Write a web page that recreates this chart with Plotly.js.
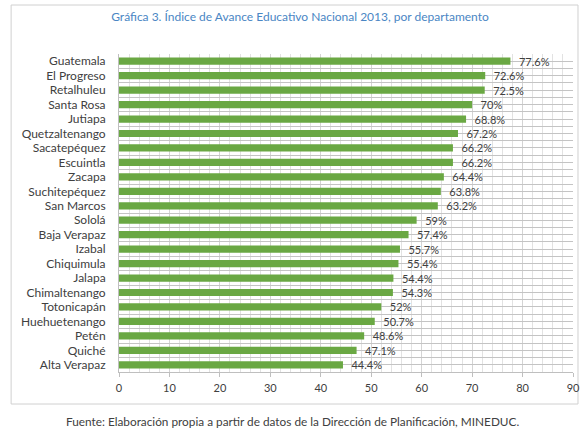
<!DOCTYPE html>
<html>
<head>
<meta charset="utf-8">
<script src="https://cdn.plot.ly/plotly-3.0.1.min.js"></script>
<style>
html,body{margin:0;padding:0;background:#fff;}
#chart{width:581px;height:433px;}
</style>
</head>
<body>
<div id="chart"></div>
<script>
const departamentos = ["Guatemala","El Progreso","Retalhuleu","Santa Rosa","Jutiapa","Quetzaltenango","Sacatepéquez","Escuintla","Zacapa","Suchitepéquez","San Marcos","Sololá","Baja Verapaz","Izabal","Chiquimula","Jalapa","Chimaltenango","Totonicapán","Huehuetenango","Petén","Quiché","Alta Verapaz"];
const indice = [77.6,72.6,72.5,70,68.8,67.2,66.2,66.2,64.4,63.8,63.2,59,57.4,55.7,55.4,54.4,54.3,52,50.7,48.6,47.1,44.4];
const xTicks = [0,10,20,30,40,50,60,70,80,90];

const font = "Lato, Open Sans, sans-serif";
const L = 118.5, R = 573, T = 54, B = 372;
const W = 581, H = 433;
const pw = R - L, ph = B - T;
function px(x){return (x - L)/pw;}
function py(y){return (B - y)/ph;}

const pos = departamentos.map((d, i) => i);
const yRange = [departamentos.length - 0.5, -0.5];
// tick positions at every category centre and every boundary (for the grid)
const yTickVals = [];
const yTickText = [];
departamentos.forEach((d, i) => {
  yTickVals.push(i - 0.5); yTickText.push("");
  yTickVals.push(i); yTickText.push(d);
});
yTickVals.push(departamentos.length - 0.5); yTickText.push("");

const trace = {
  type: "bar",
  orientation: "h",
  y: pos,
  x: indice,
  marker: {color: "#6aa843"},
  width: 0.5,
  text: indice.map(v => v + "%"),
  texttemplate: "\u2002%{text}",
  textposition: "outside",
  constraintext: "none",
  cliponaxis: false,
  textfont: {family: font, size: 11, color: "#404040"},
  hoverinfo: "none"
};

const layout = {
  width: W, height: H,
  margin: {l: L, r: W - R, t: T, b: H - B, pad: 0},
  paper_bgcolor: "#ffffff",
  plot_bgcolor: "#ffffff",
  showlegend: false,
  title: {
    text: "Gráfica 3. Índice de Avance Educativo Nacional 2013, por departamento",
    font: {family: font, size: 12, color: "#4a86c4"},
    x: 300/W, xanchor: "center", xref: "container",
    y: 1 - 17/H, yanchor: "middle", yref: "container"
  },
  xaxis: {
    range: [0, 90],
    tickvals: xTicks,
    ticktext: xTicks.map(String),
    showgrid: true, gridcolor: "#d4d4d4", gridwidth: 1,
    minor: {dtick: 2, showgrid: true, gridcolor: "#e2e2e2", gridwidth: 1},
    zeroline: false,
    showline: true, linecolor: "#bfbfbf", linewidth: 1,
    ticks: "outside", ticklen: 4, tickcolor: "#bfbfbf",
    tickfont: {family: font, size: 11, color: "#404040"},
    ticklabelstandoff: 2,
    fixedrange: true
  },
  yaxis: {
    range: yRange,
    tickmode: "array",
    tickvals: yTickVals,
    ticktext: yTickText,
    showgrid: true, gridcolor: "#c4c4c4", gridwidth: 1,
    zeroline: false,
    showline: true, linecolor: "#bfbfbf", linewidth: 1,
    ticks: "",
    tickfont: {family: font, size: 12, color: "#404040"},
    ticklabelstandoff: 10,
    fixedrange: true
  },
  shapes: [{
    type: "rect", xref: "paper", yref: "paper",
    x0: px(10.5), x1: px(578), y0: py(404), y1: py(5),
    line: {color: "#d0d0d0", width: 1}, fillcolor: "rgba(0,0,0,0)", layer: "below"
  }],
  annotations: [{
    text: "Fuente: Elaboración propia a partir de datos de la Dirección de Planificación, MINEDUC.",
    xref: "paper", yref: "paper",
    x: px(292), y: py(421), xanchor: "center", yanchor: "middle",
    showarrow: false,
    font: {family: font, size: 11.8, color: "#404040"}
  }]
};

Plotly.newPlot("chart", [trace], layout, {displayModeBar: false, staticPlot: true});
</script>
</body>
</html>
